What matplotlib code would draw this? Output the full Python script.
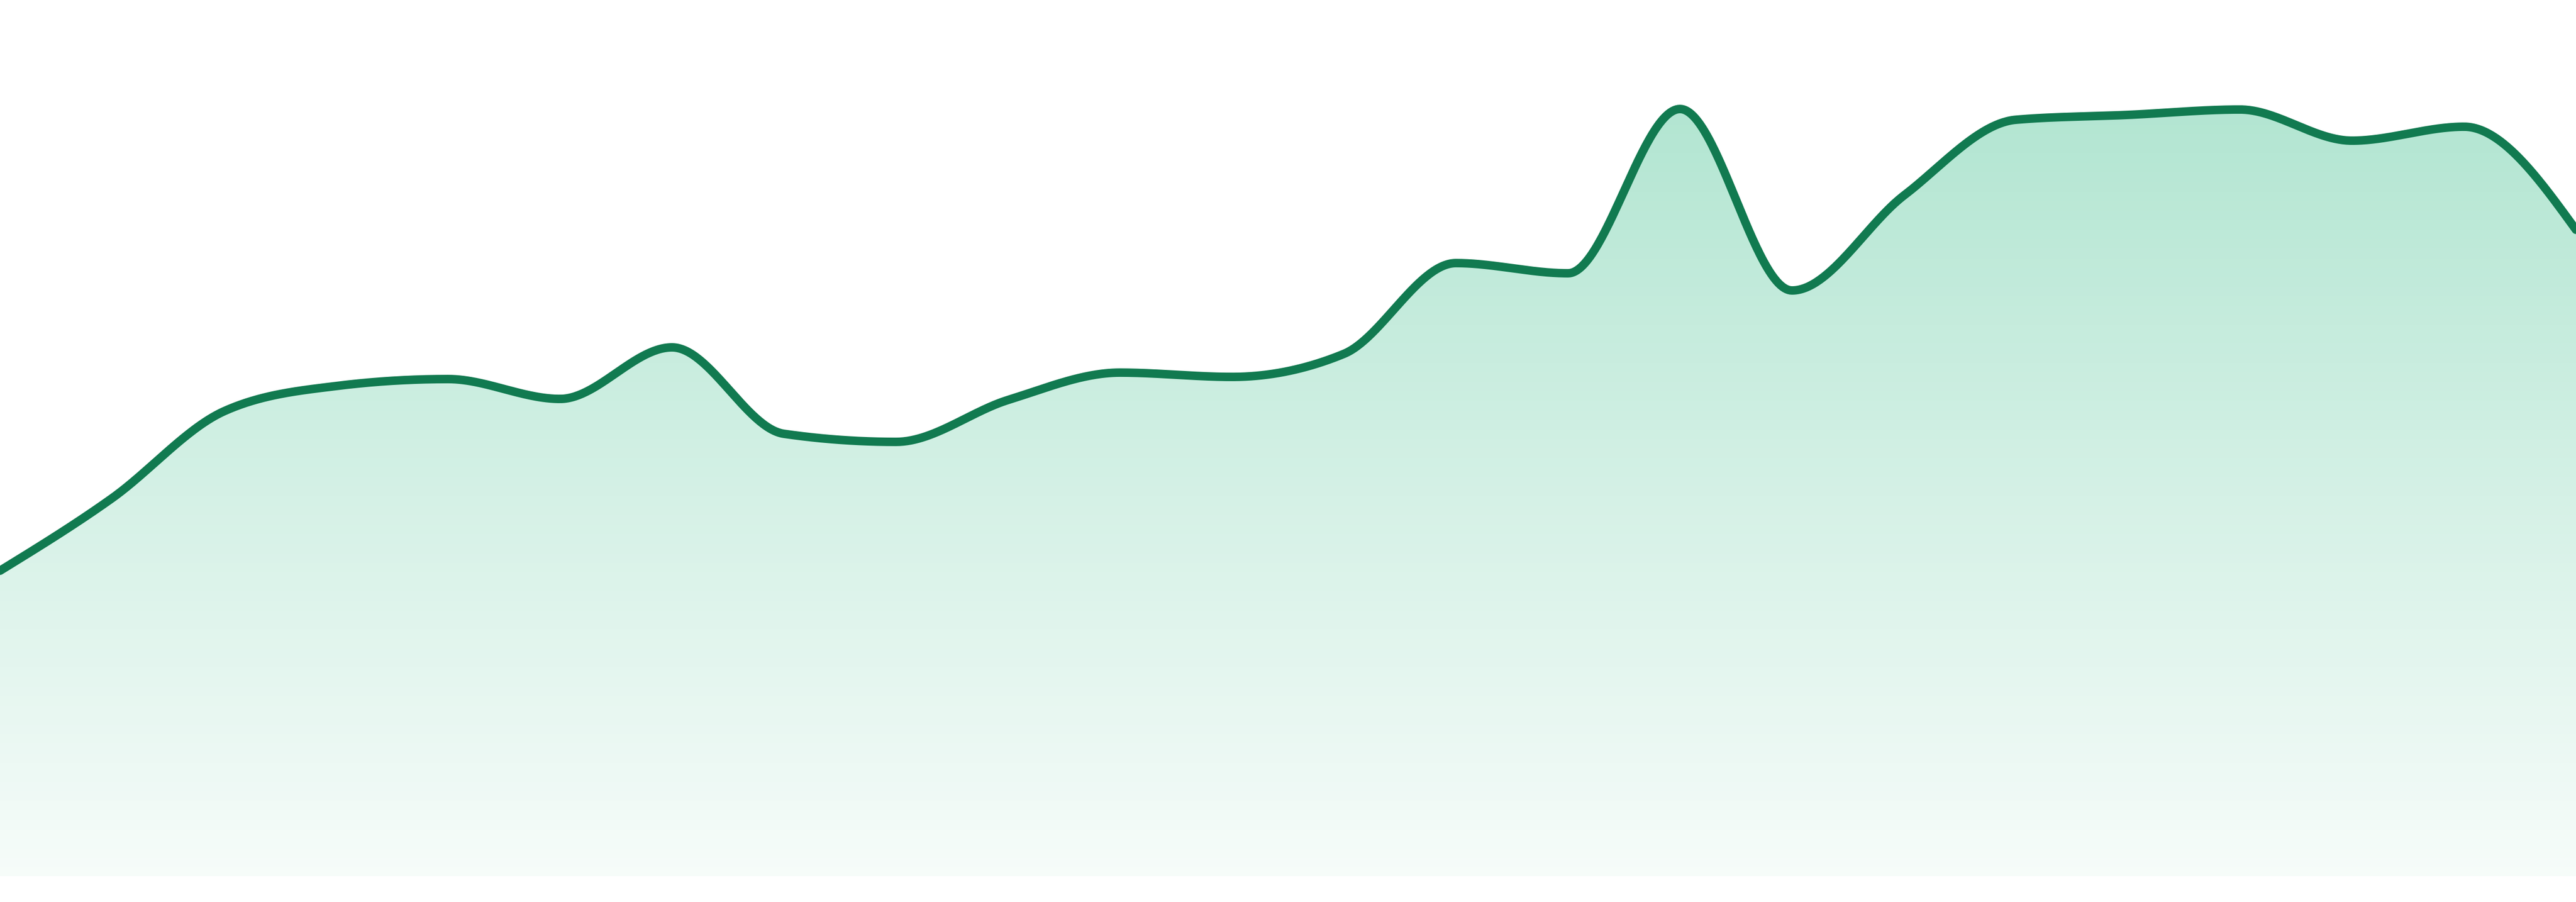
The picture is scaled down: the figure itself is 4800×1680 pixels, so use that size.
import numpy as np
import matplotlib
matplotlib.use("Agg")
import matplotlib.pyplot as plt
from matplotlib.patches import Polygon

# ---- data ----
categories = list(range(24))
values = [56.9, 70.4, 86.6, 91.3, 92.6, 88.9, 98.5, 82.4, 80.9, 88.7, 93.8, 93.0,
          97.3, 114.2, 112.3, 142.9, 109.1, 126.8, 140.9, 141.8, 142.8, 137.0, 139.6, 120.4]

line_color = "#117a50"
fill_rgb = (0.15, 0.72, 0.50)


def monotone_x(x, y, n=60):
    """d3.curveMonotoneX style interpolation"""
    x = np.asarray(x, float)
    y = np.asarray(y, float)
    m = len(x)
    h = np.diff(x)
    s = np.diff(y) / h
    t = np.zeros(m)
    for i in range(1, m - 1):
        h0, h1 = h[i - 1], h[i]
        s0, s1 = s[i - 1], s[i]
        p = (s0 * h1 + s1 * h0) / (h0 + h1)
        t[i] = (np.sign(s0) + np.sign(s1)) * min(abs(s0), abs(s1), 0.5 * abs(p))
    t[0] = (3 * s[0] - t[1]) / 2
    t[-1] = (3 * s[-1] - t[-2]) / 2
    xs, ys = [], []
    for i in range(m - 1):
        dx = (x[i + 1] - x[i]) / 3
        P0 = (x[i], y[i])
        P1 = (x[i] + dx, y[i] + dx * t[i])
        P2 = (x[i + 1] - dx, y[i + 1] - dx * t[i + 1])
        P3 = (x[i + 1], y[i + 1])
        u = np.linspace(0, 1, n, endpoint=(i == m - 2))
        bx = (1 - u) ** 3 * P0[0] + 3 * (1 - u) ** 2 * u * P1[0] + 3 * (1 - u) * u ** 2 * P2[0] + u ** 3 * P3[0]
        by = (1 - u) ** 3 * P0[1] + 3 * (1 - u) ** 2 * u * P1[1] + 3 * (1 - u) * u ** 2 * P2[1] + u ** 3 * P3[1]
        xs.append(bx)
        ys.append(by)
    return np.concatenate(xs), np.concatenate(ys)


fig = plt.figure(figsize=(16, 5.6), dpi=300)
ax = fig.add_axes([0, 0, 1, 1])
ax.set_xlim(0, len(categories) - 1)
ylo, yhi = -4.8, 163.2
ax.set_ylim(ylo, yhi)
ax.axis("off")

cx, cy = monotone_x(categories, values)

# gradient fill
H = 400
alpha_top, alpha_bot = 0.40, 0.04
grad = np.linspace(alpha_top, alpha_bot, H)
img = np.zeros((H, 2, 4))
img[..., 0] = fill_rgb[0]
img[..., 1] = fill_rgb[1]
img[..., 2] = fill_rgb[2]
img[..., 3] = grad[:, None]
im = ax.imshow(img, extent=[0, len(categories) - 1, 0, yhi], aspect="auto",
               origin="upper", zorder=1, interpolation="bilinear")
poly_xy = np.column_stack([np.concatenate([cx, [cx[-1], cx[0]]]),
                           np.concatenate([cy, [0, 0]])])
poly = Polygon(poly_xy, closed=True, facecolor="none", edgecolor="none")
ax.add_patch(poly)
im.set_clip_path(poly)

ax.plot(cx, cy, color=line_color, lw=3.8, solid_capstyle="round",
        solid_joinstyle="round", zorder=3)

fig.savefig("out.png", dpi=300, facecolor="white")
